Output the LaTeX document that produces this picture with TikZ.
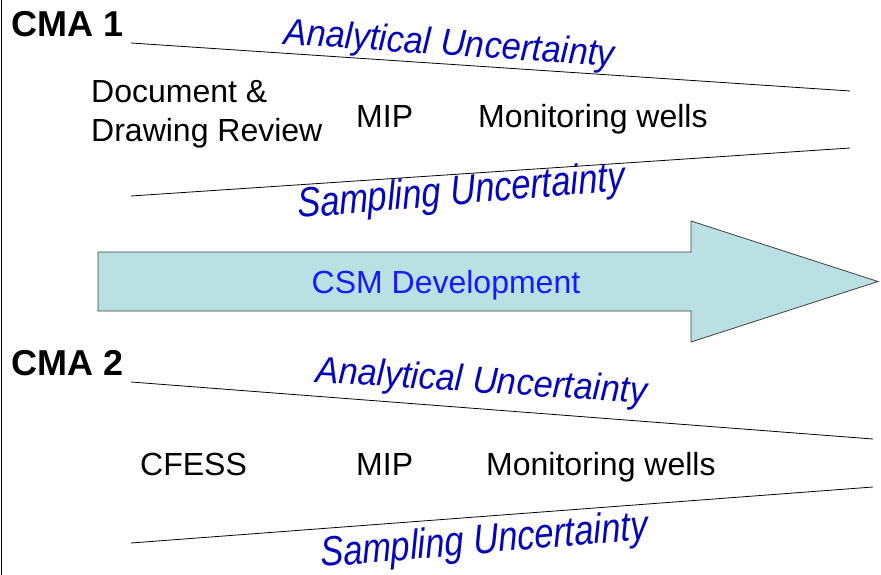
\documentclass[tikz,border=0pt]{standalone}
\usepackage{fontspec}
\setmainfont{Liberation Sans}
\definecolor{wordblue}{RGB}{5,5,185}
\definecolor{csmblue}{RGB}{25,25,255}
\definecolor{arrowfill}{RGB}{185,224,227}
\tikzset{
  item/.style={font=\fontsize{32}{39}\selectfont, inner sep=0pt, anchor=base west},
  cma/.style={font=\bfseries\fontsize{36}{40}\selectfont, inner sep=0pt, anchor=base west},
  unc/.style={font=\itshape\fontsize{34.5}{40}\selectfont, text=wordblue, inner sep=0pt, anchor=base west, yscale=1.08},
  samp/.style={unc, yscale=1.12},
}
\begin{document}
\begin{tikzpicture}[x=1pt,y=-1pt]
    \useasboundingbox (0,0) rectangle (881,575);
    \draw[line width=1.2pt] (1.5,0)--(1.5,575);
    % CMA 1
    \node[cma](cmaa) at (11.5,36.5) {CMA 1};
    \draw[line width=0.8pt] (131,43)--(850,91);
    \draw[line width=0.8pt] (131,196)--(850,148);
    \node[unc, rotate=-3.6](anaa) at (283,44) {Analytical Uncertainty};
    \node[samp, rotate=4](sama) at (298,218) {Sampling Uncertainty};
    \node[item, align=left, anchor=north west](docrev) at (91,80) {Document \&\\Drawing Review};
    \node[item](mipa) at (356,128) {MIP};
    \node[item](wella) at (478,128) {Monitoring wells};
    % CSM arrow
    \filldraw[fill=arrowfill, draw=black!75, line width=0.8pt] (98,252)--(691,252)--(691,221)--(878,281.5)
        --(691,342)--(691,311)--(98,311)--cycle;
    \node[font=\fontsize{32}{37}\selectfont, text=csmblue, inner sep=0pt, anchor=base](csm) at (446,293) {CSM Development};
    % CMA 2
    \node[cma](cmab) at (11.5,375) {CMA 2};
    \draw[line width=0.8pt] (131,382)--(873,439);
    \draw[line width=0.8pt] (131,543)--(873,487);
    \node[unc, rotate=-3.4](anab) at (315,382) {Analytical Uncertainty};
    \node[samp, rotate=4](samb) at (321,567) {Sampling Uncertainty};
    \node[item](cfess) at (140,475) {CFESS};
    \node[item](mipb) at (356,475) {MIP};
    \node[item](wellb) at (486,475) {Monitoring wells};
\end{tikzpicture}
\end{document}
